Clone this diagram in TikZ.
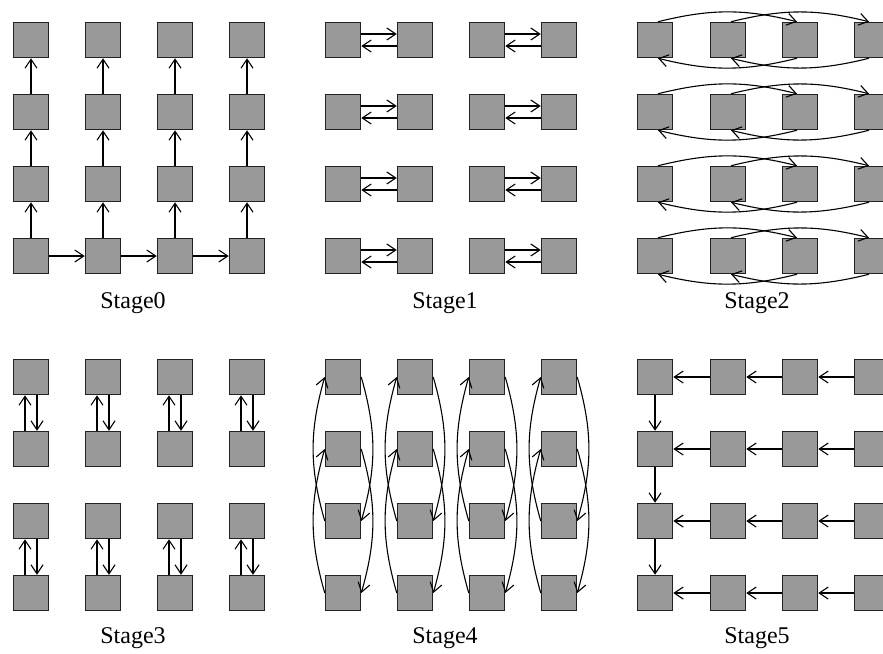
\documentclass[tikz,border=0pt]{standalone}
\usepackage{fontspec}
\setmainfont{Liberation Serif}
\usetikzlibrary{arrows.meta}
\definecolor{boxfill}{HTML}{999999}
\definecolor{boxline}{HTML}{222222}
\begin{document}
\begin{tikzpicture}[x=0.5pt,y=-0.5pt,
  cell/.style={draw=boxline,fill=boxfill,line width=0.75pt,minimum size=17.5pt,inner sep=0pt},
  conn/.style={line width=0.55pt,-{Straight Barb[length=4.5pt,width=6pt,line width=0.55pt]}},
  lbl/.style={font=\fontsize{12}{14}\selectfont,inner sep=0pt}]
\useasboundingbox (0,0) rectangle (883,653);
\clip (0,0) rectangle (883,653);
% ---------- nodes ----------
\foreach \r/\y in {1/40,2/112,3/184,4/256,5/377,6/449,7/521,8/593}{
  \foreach \c/\x in {1/31,2/103,3/175,4/247}{
    \node[cell] (L\r\c) at (\x,\y) {};
  }
  \foreach \c/\x in {1/343,2/415,3/487,4/559}{
    \node[cell] (M\r\c) at (\x,\y) {};
  }
  \foreach \c/\x in {1/655,2/728,3/800,4/872}{
    \node[cell] (R\r\c) at (\x,\y) {};
  }
}
% ---------- Stage0 ----------
\foreach \c in {1,2,3,4}{
  \draw[conn] (L4\c.north) -- (L3\c.south);
  \draw[conn] (L3\c.north) -- (L2\c.south);
  \draw[conn] (L2\c.north) -- (L1\c.south);
}
\draw[conn] (L41.east) -- (L42.west);
\draw[conn] (L42.east) -- (L43.west);
\draw[conn] (L43.east) -- (L44.west);
\node[lbl] (lab0) at (133,303) {Stage0};
% ---------- Stage1 ----------
\foreach \r in {1,2,3,4}{
  \draw[conn] ([yshift=3pt]M\r1.east) -- ([yshift=3pt]M\r2.west);
  \draw[conn] ([yshift=-3pt]M\r2.west) -- ([yshift=-3pt]M\r1.east);
  \draw[conn] ([yshift=3pt]M\r3.east) -- ([yshift=3pt]M\r4.west);
  \draw[conn] ([yshift=-3pt]M\r4.west) -- ([yshift=-3pt]M\r3.east);
}
\node[lbl] (lab1) at (445,303) {Stage1};
% ---------- Stage2 ----------
\foreach \r in {1,2,3,4}{
  \draw[conn] ([xshift=1.5pt]R\r1.north) to[bend left=14] ([xshift=-1.5pt]R\r3.north);
  \draw[conn] ([xshift=1.5pt]R\r2.north) to[bend left=14] ([xshift=-1.5pt]R\r4.north);
  \draw[conn] ([xshift=-1.5pt]R\r3.south) to[bend left=14] ([xshift=1.5pt]R\r1.south);
  \draw[conn] ([xshift=-1.5pt]R\r4.south) to[bend left=14] ([xshift=1.5pt]R\r2.south);
}
\node[lbl] (lab2) at (757,303) {Stage2};
% ---------- Stage3 ----------
\foreach \c in {1,2,3,4}{
  \draw[conn] ([xshift=-3pt]L6\c.north) -- ([xshift=-3pt]L5\c.south);
  \draw[conn] ([xshift=3pt]L5\c.south) -- ([xshift=3pt]L6\c.north);
  \draw[conn] ([xshift=-3pt]L8\c.north) -- ([xshift=-3pt]L7\c.south);
  \draw[conn] ([xshift=3pt]L7\c.south) -- ([xshift=3pt]L8\c.north);
}
\node[lbl] (lab3) at (133,638) {Stage3};
% ---------- Stage4 ----------
\foreach \c in {1,2,3,4}{
  \draw[conn] (M7\c.west) to[bend left=16] (M5\c.west);
  \draw[conn] (M8\c.west) to[bend left=16] (M6\c.west);
  \draw[conn] (M5\c.east) to[bend left=16] (M7\c.east);
  \draw[conn] (M6\c.east) to[bend left=16] (M8\c.east);
}
\node[lbl] (lab4) at (445,638) {Stage4};
% ---------- Stage5 ----------
\foreach \r in {5,6,7,8}{
  \draw[conn] (R\r4.west) -- (R\r3.east);
  \draw[conn] (R\r3.west) -- (R\r2.east);
  \draw[conn] (R\r2.west) -- (R\r1.east);
}
\draw[conn] (R51.south) -- (R61.north);
\draw[conn] (R61.south) -- (R71.north);
\draw[conn] (R71.south) -- (R81.north);
\node[lbl] (lab5) at (757,638) {Stage5};
\end{tikzpicture}
\end{document}
